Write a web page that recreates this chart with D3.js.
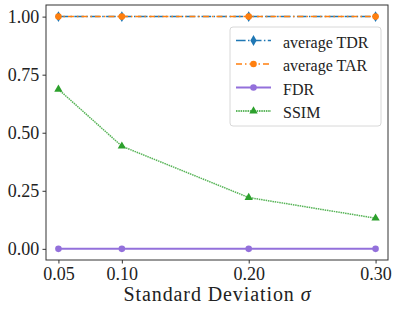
<!DOCTYPE html>
<html><head><meta charset="utf-8">
<script src="https://cdn.jsdelivr.net/npm/d3@7"></script>
<style>body{margin:0;background:#fff;font-family:serif}svg{display:block}</style>
</head><body>
<script>
const sigmas = [0.05, 0.10, 0.20, 0.30];
const xTickLabels = ["0.05", "0.10", "0.20", "0.30"];
const yTicks = [0, 0.25, 0.5, 0.75, 1.0];
const tdr = [1.0, 1.0, 1.0, 1.0];
const tar = [1.0, 1.0, 1.0, 1.0];
const fdr = [0.0, 0.0, 0.0, 0.0];
const ssim = [0.687, 0.442, 0.221, 0.132];
const seriesNames = ["average TDR", "average TAR", "FDR", "SSIM"];

const W = 399, H = 313;
const L = 46, R = 388, T = 5, B = 260;
const font = "serif";

const svg = d3.select("body").append("svg").attr("width", W).attr("height", H)
  .attr("font-family", font);
const x = d3.scaleLinear().domain([0.0402, 0.3098]).range([L, R]);
const y = d3.scaleLinear().domain([-0.048, 1.05]).range([B, T]);

const series = [
  {name: seriesNames[0], vals: tdr, color: "#1f77b4", dash: "9.6,2.4,1.5,2.4", width: 1.5, marker: "diamond", off: 0},
  {name: seriesNames[1], vals: tar, color: "#ff7f0e", dash: "6,3,1.5,3", width: 1.5, marker: "circle", off: 4},
  {name: seriesNames[2], vals: fdr, color: "#9370db", dash: null, width: 2, marker: "circle", off: 0},
  {name: seriesNames[3], vals: ssim, color: "#2ca02c", dash: "1.5,0.8", width: 1.5, marker: "triangle", off: 0}
];
const symType = {diamond: d3.symbolDiamond, circle: d3.symbolCircle, triangle: d3.symbolTriangle};
const symSize = {diamond: 34, circle: 34, triangle: 30};

const g = svg.append("g");
const line = d3.line().x((d, i) => x(sigmas[i])).y(d => y(d));
series.forEach(s => {
  const p = g.append("path").datum(s.vals).attr("d", line)
    .attr("fill", "none").attr("stroke", s.color).attr("stroke-width", s.width)
    .attr("opacity", s.name === "SSIM" ? 0.8 : 1);
  if (s.dash) p.attr("stroke-dasharray", s.dash).attr("stroke-dashoffset", s.off);
  g.selectAll(null).data(s.vals).enter().append("path")
    .attr("transform", (d, i) => `translate(${x(sigmas[i])},${y(d)})`)
    .attr("d", d3.symbol().type(symType[s.marker]).size(symSize[s.marker]))
    .attr("fill", s.color);
});

// frame
svg.append("rect").attr("x", L).attr("y", T).attr("width", R - L).attr("height", B - T)
  .attr("fill", "none").attr("stroke", "#333").attr("stroke-width", 1);

// axes
const xAxis = d3.axisBottom(x).tickValues(sigmas).tickFormat((d, i) => xTickLabels[i]).tickSize(3.5).tickPadding(4);
const yAxis = d3.axisLeft(y).tickValues(yTicks).tickFormat(d3.format(".2f")).tickSize(3.5).tickPadding(3.2);
const gx = svg.append("g").attr("transform", `translate(0,${B})`).call(xAxis);
const gy = svg.append("g").attr("transform", `translate(${L},0)`).call(yAxis);
[gx, gy].forEach(a => {
  a.attr("font-family", font).attr("font-size", 18);
  a.select(".domain").remove();
  a.selectAll("line").attr("stroke", "#333");
  a.selectAll("text").attr("font-family", font).attr("font-size", 18).attr("fill", "#222");
});

svg.append("text").attr("x", (L + R) / 2).attr("y", 301).attr("text-anchor", "middle")
  .attr("font-family", font).attr("font-size", 20).attr("fill", "#222")
  .attr("textLength", 187).attr("lengthAdjust", "spacing")
  .html("Standard Deviation <tspan font-style='italic'>σ</tspan>");

// legend
const lg = svg.append("g");
lg.append("rect").attr("x", 230).attr("y", 27).attr("width", 151).attr("height", 99).attr("rx", 3)
  .attr("fill", "#fff").attr("fill-opacity", 0.8).attr("stroke", "#d8d8d8").attr("stroke-width", 1);
series.forEach((s, i) => {
  const yy = 40.5 + i * 23.5;
  const l = lg.append("line").attr("x1", 236).attr("x2", 271).attr("y1", yy).attr("y2", yy)
    .attr("stroke", s.color).attr("stroke-width", s.width);
  if (s.dash) l.attr("stroke-dasharray", s.dash);
  lg.append("path").attr("transform", `translate(253.5,${yy})`)
    .attr("d", d3.symbol().type(symType[s.marker]).size(symSize[s.marker])).attr("fill", s.color);
  lg.append("text").attr("x", 283).attr("y", yy + 7)
    .attr("font-family", font).attr("font-size", 16).attr("fill", "#222").text(s.name);
});
</script>
</body></html>
